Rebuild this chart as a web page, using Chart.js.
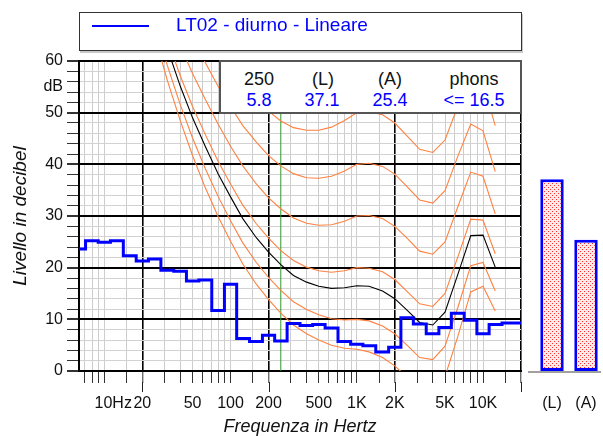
<!DOCTYPE html>
<html>
<head>
<meta charset="utf-8">
<script src="https://cdn.jsdelivr.net/npm/chart.js@4.4.0/dist/chart.umd.min.js"></script>
<style>
  html, body { margin: 0; padding: 0; background: #fff; }
  body { width: 603px; height: 436px; position: relative; overflow: hidden;
         font-family: "Liberation Sans", Arial, sans-serif; }
  canvas { position: absolute; top: 0; }
  #main { left: 0; }
  #bars { left: 521px; }
  #legend { position: absolute; left: 79px; top: 12px; width: 443px; height: 39px;
            border: 1px solid #333; box-sizing: border-box; background: #fff;
            box-shadow: 1px 2px 0 #c8c8c8; z-index: 2; }
  #legend .swatch { position: absolute; left: 12px; top: 12px; width: 57px; height: 2px; background: #0000ff; }
  #legend .txt { position: absolute; left: 96px; top: 0; line-height: 23px; font-size: 19px; color: #0000ff; white-space: nowrap; }
  #readout { position: absolute; left: 219px; top: 60px; width: 303px; height: 54px;
             border: 2px solid #555; box-sizing: border-box; background: #fff; z-index: 2; }
  .ro { position: absolute; font-size: 18px; transform: translate(-50%, -50%); white-space: nowrap; z-index: 3; }
  .hd { color: #111; }
  .vl { color: #0000ff; }
</style>
</head>
<body>
<canvas id="main" width="603" height="436"></canvas>
<canvas id="bars" width="82" height="436"></canvas>
<div id="legend"><div class="swatch"></div><div class="txt" id="legendText"></div></div>
<div id="readout"></div>
<script>
// ---------------- data ----------------
const SERIES_NAME = 'LT02 - diurno - Lineare';

// 1/3-octave band centres (Hz) and measured levels (dB)
const BANDS = [6.3, 8, 10, 12.5, 16, 20, 25, 31.5, 40, 50, 63, 80, 100, 125, 160, 200, 250, 315, 400, 500,
               630, 800, 1000, 1250, 1600, 2000, 2500, 3150, 4000, 5000, 6300, 8000, 10000, 12500, 16000, 20000];
const LEVELS = [23.6, 25.2, 24.9, 25.2, 22.3, 21.3, 21.7, 19.5, 19.3, 17.4, 17.6, 11.7, 16.8, 6.3, 5.7, 6.9, 5.8, 9.2, 8.8, 9.0,
                8.3, 5.7, 5.2, 4.9, 3.7, 4.6, 10.3, 9.1, 7.2, 8.4, 11.2, 9.8, 7.2, 9.0, 9.3, 9.3];

// equal-loudness contours (dB) read at these frequencies
const CONTOUR_FREQS = [20, 25, 31.5, 40, 50, 63, 80, 100, 125, 160, 200, 250, 315, 400, 500, 630, 800,
                       1000, 1250, 1600, 2000, 2500, 3150, 4000, 5000, 6300, 8000, 10000, 12500];
const THRESHOLD = [74.3, 65.0, 56.3, 48.4, 41.7, 35.5, 29.8, 25.1, 20.7, 16.8, 13.8, 11.2, 8.9, 7.2, 6.0, 5.0, 4.4,
                   4.2, 3.7, 2.6, 1.0, -1.2, -3.6, -3.9, -1.1, 6.6, 15.3, 16.4, 11.6];
const PHON_10 = [76.8, 67.7, 59.2, 51.5, 45.1, 39.2, 33.7, 29.1, 24.8, 21.0, 18.1, 15.6, 13.4, 11.9, 10.9, 10.1, 9.9,
                 10.0, 9.7, 8.7, 7.2, 5.0, 2.6, 2.2, 4.8, 12.2, 20.4, 21.0, 15.5];
const PHON_16_5 = [79.7, 70.8, 62.5, 55.1, 49.0, 43.5, 38.1, 33.7, 29.5, 25.8, 23.0, 20.6, 18.5, 17.2, 16.4, 16.0, 16.1,
                   16.5, 16.4, 15.5, 14.0, 11.8, 9.4, 8.9, 11.4, 18.6, 26.2, 26.3, 20.1];
const PHON_20 = [81.3, 72.5, 64.3, 57.1, 51.2, 45.8, 40.5, 36.2, 32.1, 28.5, 25.7, 23.3, 21.4, 20.1, 19.4, 19.1, 19.4,
                 20.0, 19.9, 19.2, 17.7, 15.4, 13.0, 12.5, 15.0, 22.0, 29.4, 29.2, 22.7];
const PHON_30 = [86.0, 77.6, 69.7, 62.9, 57.6, 52.6, 47.7, 43.5, 39.7, 36.2, 33.5, 31.4, 29.6, 28.6, 28.2, 28.3, 29.0,
                 30.0, 30.1, 29.5, 28.0, 25.7, 23.2, 22.6, 25.0, 31.7, 38.5, 37.7, 30.4];
const PHON_40 = [91.0, 82.9, 75.4, 69.0, 64.3, 59.7, 55.0, 51.2, 47.5, 44.3, 41.7, 39.7, 38.2, 37.4, 37.3, 37.7, 38.7,
                 40.0, 40.2, 39.6, 38.1, 35.7, 33.1, 32.5, 34.9, 41.5, 47.8, 46.5, 38.6];
const PHON_50 = [96.2, 88.5, 81.3, 75.4, 71.3, 67.1, 62.7, 59.1, 55.7, 52.7, 50.3, 48.4, 47.1, 46.6, 46.6, 47.2, 48.5,
                 50.0, 50.2, 49.6, 48.0, 45.5, 42.9, 42.3, 44.7, 51.2, 57.2, 55.6, 47.5];

// cursor read-out and overall levels
const CURSOR_HZ = 250;
const CURSOR_LEVEL = 5.8;
const SUM_LABELS = ['(L)', '(A)'];
const SUM_VALUES = [37.1, 25.4];
const LOUDNESS_TEXT = '<= 16.5';

// axis ticks
const X_TICKS = [7, 8, 9, 10, 15, 20, 30, 40, 50, 60, 70, 80, 90, 100, 150, 200, 300, 400, 500, 600, 700, 800, 900,
                 1000, 1500, 2000, 3000, 4000, 5000, 6000, 7000, 8000, 9000, 10000, 15000, 20000];
const X_MAJOR = [20, 200, 2000, 20000];
const X_LABEL_VALUES = [10, 20, 50, 100, 200, 500, 1000, 2000, 5000, 10000];
const X_LABEL_TEXTS = ['    10Hz', '20', '50', '100', '200', '500', '1K', '2K', '5K', '10K'];
const Y_LABEL_VALUES = [0, 10, 20, 30, 40, 50, 55, 60];
const Y_LABEL_TEXTS = ['0', '10', '20', '30', '40', '50', 'dB', '60'];

// ---------------- page text ----------------
document.getElementById('legendText').textContent = SERIES_NAME;
const ro = document.getElementById('readout');
function addText(txt, cls, x, y) {
  const d = document.createElement('div');
  d.className = 'ro ' + cls;
  d.textContent = txt;
  d.style.left = (x - 219) + 'px';
  d.style.top = (y - 60) + 'px';
  ro.appendChild(d);
}
addText(String(CURSOR_HZ), 'hd', 257, 77);
addText(CURSOR_LEVEL.toFixed(1), 'vl', 257, 98);
addText(SUM_LABELS[0], 'hd', 321, 77);
addText(SUM_VALUES[0].toFixed(1), 'vl', 320, 98);
addText(SUM_LABELS[1], 'hd', 388, 77);
addText(SUM_VALUES[1].toFixed(1), 'vl', 388, 98);
addText('phons', 'hd', 472, 77);
addText(LOUDNESS_TEXT, 'vl', 472, 98);

// ---------------- main chart ----------------
const FONT = '"Liberation Sans", Arial, sans-serif';
const ORANGE = '#ff8040';
const toXY = (xs, ys) => xs.map((x, i) => ({ x: x, y: ys[i] }));
const contour = (ys, color) => ({
  data: toXY(CONTOUR_FREQS, ys), borderColor: color, borderWidth: 1.1, pointRadius: 0,
  tension: 0, fill: false, clip: 0, order: 2
});

const majorTicks = {
  id: 'majorTicks',
  afterDraw(chart) {
    const sx = chart.scales.x, b = chart.chartArea.bottom, c = chart.ctx;
    c.save(); c.strokeStyle = '#222'; c.lineWidth = 1;
    X_MAJOR.forEach(v => {
      const x = Math.round(sx.getPixelForValue(v)) + 0.5;
      c.beginPath(); c.moveTo(x, b + 11); c.lineTo(x, b + 21); c.stroke();
    });
    c.restore();
  }
};

new Chart(document.getElementById('main'), {
  type: 'line',
  data: {
    datasets: [
      { data: toXY(BANDS, LEVELS), stepped: 'middle', borderColor: '#0000ff', borderWidth: 3,
        pointRadius: 0, fill: false, clip: 2, order: 0 },
      { data: [{ x: CURSOR_HZ, y: 0 }, { x: CURSOR_HZ, y: 60 }], borderColor: '#2e9a2e', borderWidth: 1,
        pointRadius: 0, clip: 0, order: 3 },
      Object.assign(contour(PHON_16_5, '#000000'), { order: 1 }),
      contour(THRESHOLD, ORANGE),
      contour(PHON_10, ORANGE),
      contour(PHON_20, ORANGE),
      contour(PHON_30, ORANGE),
      contour(PHON_40, ORANGE),
      contour(PHON_50, ORANGE)
    ]
  },
  options: {
    responsive: false, animation: false, devicePixelRatio: 1,
    layout: { padding: { left: 0, top: 61, right: 82, bottom: 0 } },
    plugins: { legend: { display: false }, tooltip: { enabled: false } },
    scales: {
      x: {
        type: 'logarithmic', min: 6.3, max: 20000,
        afterBuildTicks: s => { s.ticks = X_TICKS.map(v => ({ value: v })); },
        afterFit: s => { s.height = 65; s.paddingLeft = 0; s.paddingRight = 0; },
        ticks: {
          autoSkip: false, maxRotation: 0, minRotation: 0, padding: 11, color: '#111',
          font: { family: FONT, size: 16 },
          callback: v => { const i = X_LABEL_VALUES.indexOf(Math.round(v)); return i >= 0 ? X_LABEL_TEXTS[i] : ''; }
        },
        grid: {
          color: c => X_MAJOR.includes(Math.round(c.tick.value)) ? '#000' : '#cdcdcd',
          lineWidth: c => X_MAJOR.includes(Math.round(c.tick.value)) ? 1.6 : 1,
          tickColor: '#333', tickLength: 12, tickWidth: 1
        },
        border: { display: true, color: '#000', width: 2 },
        title: { display: true, text: 'Frequenza in Hertz', color: '#111',
                 font: { family: FONT, size: 18, style: 'italic', lineHeight: 1 }, padding: { top: 0, bottom: 0 } }
      },
      y: {
        type: 'linear', min: 0, max: 60,
        afterFit: s => { s.width = 79; },
        ticks: {
          stepSize: 1, autoSkip: false, padding: 4, color: '#111',
          font: { family: FONT, size: 16 },
          callback: v => { const i = Y_LABEL_VALUES.indexOf(v); return i >= 0 ? Y_LABEL_TEXTS[i] : ''; }
        },
        grid: {
          color: c => { const v = c.tick.value; return v % 10 === 0 ? '#000' : (v % 2 === 0 ? '#d2d2d2' : 'rgba(0,0,0,0)'); },
          lineWidth: c => c.tick.value % 10 === 0 ? 2 : 1,
          tickColor: c => c.tick.value % 2 === 0 ? '#333' : 'rgba(0,0,0,0)',
          tickLength: 12
        },
        border: { display: true, color: '#000', width: 2 },
        title: { display: true, text: 'Livello in decibel', color: '#111',
                 font: { family: FONT, size: 19, style: 'italic', lineHeight: 1 }, padding: { top: 11, bottom: 0 } }
      }
    }
  },
  plugins: [majorTicks]
});

// ---------------- overall level bars ----------------
const barsCanvas = document.getElementById('bars');
const pc = document.createElement('canvas');
pc.width = 4; pc.height = 4;
const pctx = pc.getContext('2d');
pctx.fillStyle = '#ffeaea'; pctx.fillRect(0, 0, 4, 4);
pctx.fillStyle = '#ff2a2a'; pctx.fillRect(1, 1, 1, 1); pctx.fillRect(3, 3, 1, 1);
const dotPattern = barsCanvas.getContext('2d').createPattern(pc, 'repeat');

const baseline = {
  id: 'baseline',
  beforeDatasetsDraw(chart) {
    const y = chart.scales.y.getPixelForValue(0) + 1, c = chart.ctx;
    c.save(); c.strokeStyle = '#a0a0a0'; c.lineWidth = 2;
    c.beginPath(); c.moveTo(7, y); c.lineTo(80, y); c.stroke(); c.restore();
  }
};

new Chart(barsCanvas, {
  type: 'bar',
  data: {
    labels: SUM_LABELS,
    datasets: [{ data: SUM_VALUES, backgroundColor: dotPattern, borderColor: '#0000ff', borderWidth: 3,
                 borderSkipped: false, barPercentage: 0.69, categoryPercentage: 1 }]
  },
  options: {
    responsive: false, animation: false, devicePixelRatio: 1,
    layout: { padding: { left: 14, top: 61, right: 0, bottom: 0 } },
    plugins: { legend: { display: false }, tooltip: { enabled: false } },
    scales: {
      x: {
        afterFit: s => { s.height = 65; s.paddingLeft = 0; s.paddingRight = 0; },
        grid: { display: false, drawTicks: false },
        border: { display: false },
        ticks: { padding: 23, color: '#111', font: { family: FONT, size: 16 }, maxRotation: 0 }
      },
      y: { display: false, min: 0, max: 60 }
    }
  },
  plugins: [baseline]
});
</script>
</body>
</html>
